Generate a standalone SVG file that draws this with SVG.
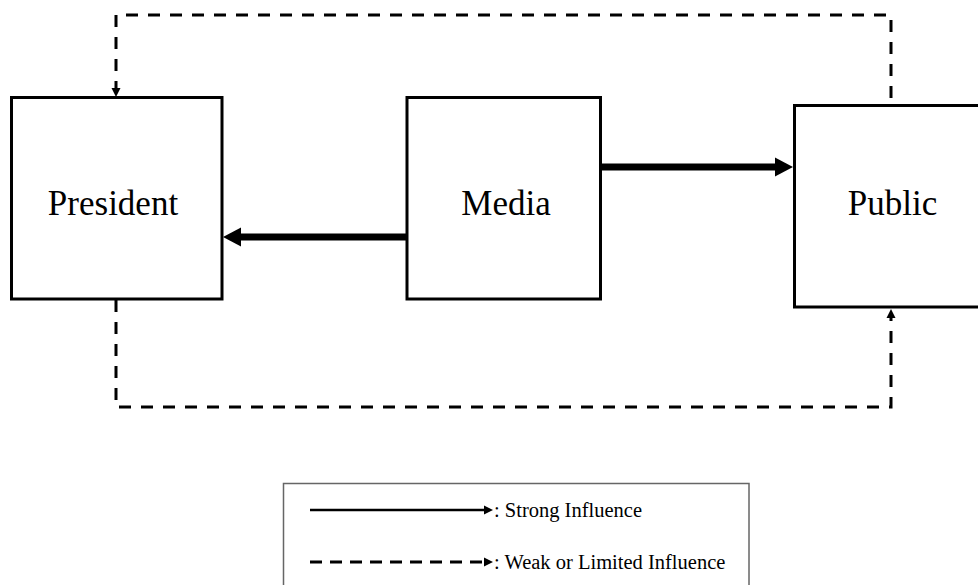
<svg xmlns="http://www.w3.org/2000/svg" width="978" height="585" viewBox="0 0 978 585">
<style>
.box{fill:#fff;stroke:#000;stroke-width:3}
.lbl{font-family:"Liberation Serif","Times New Roman",serif;font-size:35px;fill:#000;text-anchor:middle}
.leg{font-family:"Liberation Serif","Times New Roman",serif;font-size:20.5px;fill:#000}
.strong{fill:none;stroke:#000;stroke-width:7}
.weak{fill:none;stroke:#000;stroke-width:3;stroke-dasharray:12 10}
</style>
<defs>
<marker id="bigArrow" markerUnits="userSpaceOnUse" markerWidth="18" markerHeight="20" refX="0" refY="10" orient="auto">
<path d="M0,0.5 L18,10 L0,19.5 z" fill="#000"/>
</marker>
<marker id="smallArrow" markerUnits="userSpaceOnUse" markerWidth="9" markerHeight="10" refX="0" refY="5" orient="auto">
<path d="M0,0.5 L9,5 L0,9.5 z" fill="#000"/>
</marker>
</defs>
<rect width="978" height="585" fill="#fff"/>
<g id="connectors">
<path class="weak" d="M891,98 V15 H116 V88" marker-end="url(#smallArrow)"/>
<path class="weak" d="M116,300 V407 H891 V318" marker-end="url(#smallArrow)"/>
<line class="strong" x1="406" y1="237" x2="241" y2="237" marker-end="url(#bigArrow)"/>
<line class="strong" x1="600" y1="167" x2="775" y2="167" marker-end="url(#bigArrow)"/>
</g>
<g id="president">
<rect class="box" x="11.5" y="97.5" width="210.5" height="201.5"/>
<text class="lbl" x="113" y="215">President</text>
</g>
<g id="media">
<rect class="box" x="407" y="97.5" width="193.5" height="201.5"/>
<text class="lbl" x="506" y="215">Media</text>
</g>
<g id="public">
<rect class="box" x="794.5" y="105.5" width="190" height="201.5"/>
<text class="lbl" x="892.5" y="215">Public</text>
</g>
<g id="legend">
<rect x="283.5" y="483.5" width="465.5" height="110" fill="#fff" stroke="#666" stroke-width="1.5"/>
<line x1="310" y1="510" x2="484" y2="510" stroke="#000" stroke-width="2.5" marker-end="url(#smallArrow)"/>
<text class="leg" x="494" y="517">: Strong Influence</text>
<line x1="310" y1="562" x2="484" y2="562" stroke="#000" stroke-width="3" stroke-dasharray="12 8" marker-end="url(#smallArrow)"/>
<text class="leg" x="494" y="569">: Weak or Limited Influence</text>
</g>
</svg>
